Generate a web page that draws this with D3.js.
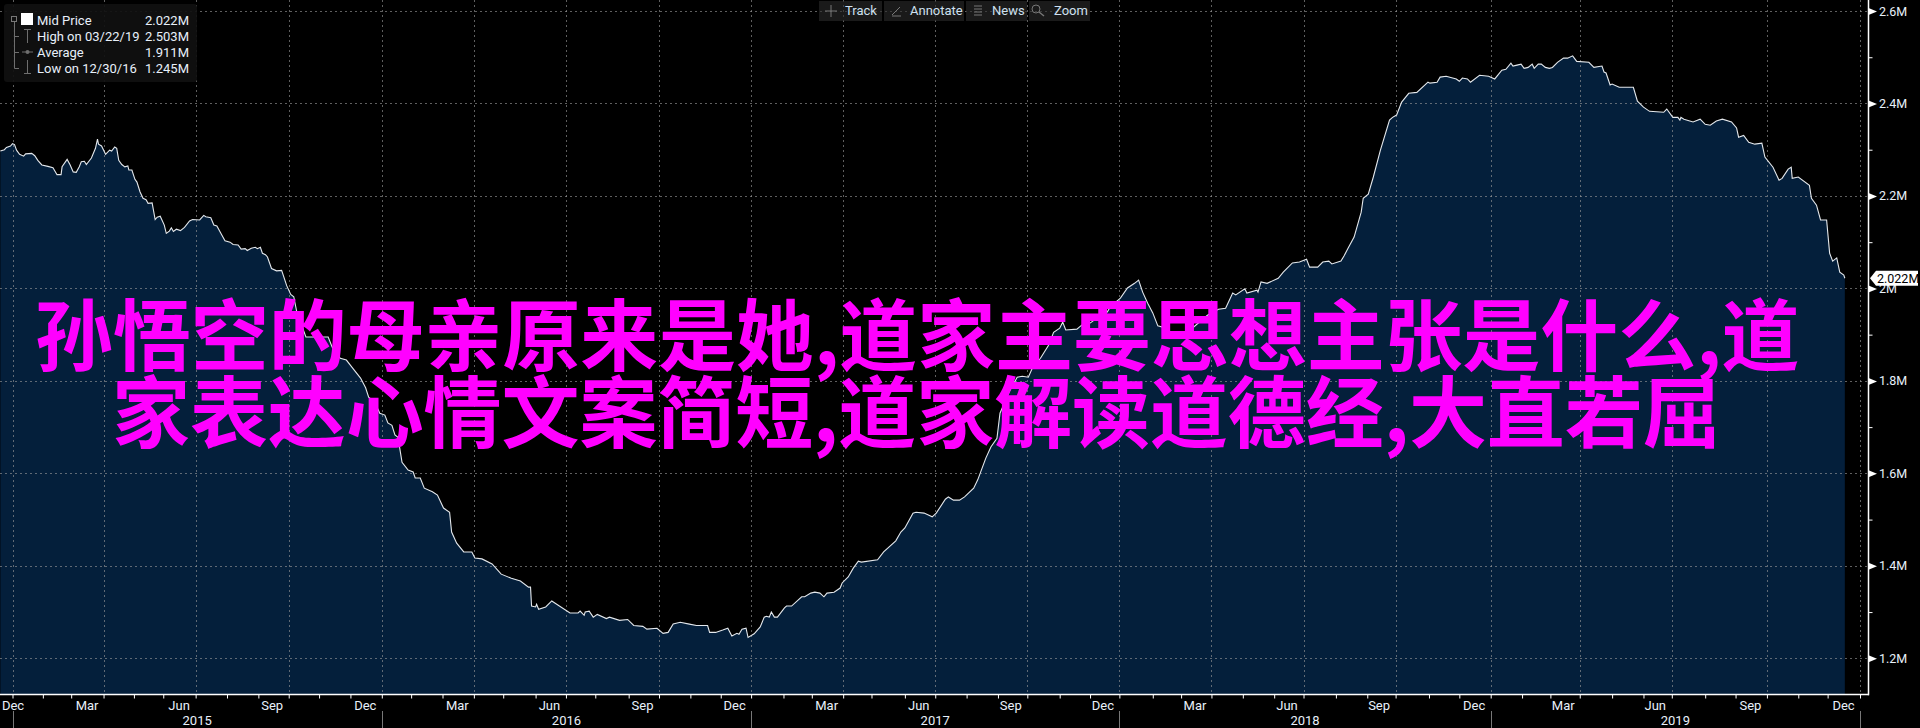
<!DOCTYPE html>
<html>
<head>
<meta charset="utf-8">
<script src="https://cdn.jsdelivr.net/npm/d3@7/dist/d3.min.js"></script>
<style>
html,body{margin:0;padding:0;background:#000;overflow:hidden}
svg{display:block}
text{font-family:Roboto,"Liberation Sans",sans-serif}
</style>
</head>
<body>
<svg id="chart" width="1920" height="728"></svg>
<script>
// ---- data ----
const startDay = "2014-12-31";
const endDay = "2019-12-31";
// calendar days after startDay
const dayOffsets = [
-12,-8,-6,-2,0,2,4,7,11,13,19,22,25,29,35,40,44,48,49,54,57,60,63,66,68,71,73,78,82,84,85,88,92,96,98,101,103,105,108,111,114,115,118,121,123,126,129,132,134,138,141,143,146,150,152,155,157,159,162,166,170,175,178,185,189,191,196,199,202,207,210,215,218,223,226,230,232,236,240,242,245,247,250,252,256,261,266,271,275,278,281,
290,296,312,316,324,330,336,344,349,352,358,363,368,371,375,378,381,385,391,396,398,403,407,415,420,426,432,434,439,446,454,457,464,474,483,493,502,510,512,513,517,518,520,527,533,542,551,559,561,565,566,570,574,578,587,590,600,608,614,623,627,637,643,648,653,660,669,676,687,689,695,702,707,711,716,718,721,725,727,
733,739,743,745,748,750,753,756,763,765,770,780,783,789,793,798,802,805,812,818,820,826,831,836,839,855,861,873,878,882,890,893,901,909,913,922,925,930,936,941,950,954,962,967,973,976,985,993,998,1004,1008,1016,1024,1029,1035,1038,1041,1052,1057,1065,1072,1082,1085,1095,1102,1109,1113,1117,1122,1127,1132,1137,1147,1164,1181,1192,1199,1206,1209,1218,1220,1230,1231,1234,1240,1251,1256,1265,
1272,1279,1282,1286,1290,1295,1301,1304,1313,1316,1320,1326,1333,1335,1340,1345,1352,1361,1364,1368,1373,1380,1388,1399,1401,1408,1411,1417,1427,1430,1433,1438,1441,1450,1459,1465,1472,1476,1481,1483,1487,1491,1494,1498,1502,1504,1508,1511,1515,1519,1522,1527,1533,1537,1542,1546,1558,1563,1571,1573,1575,1579,1581,1588,1599,1602,1606,1612,1618,1632,1635,1641,1646,1648,1649,1652,1661,1668,1673,1678,1684,1690,1699,1704,1706,1711,1716,1722,1729,1732,1740,1746,1749,1755,1758,1759,1765,1776,1778,1783,1787,1793,1796,1799,1803,1806,1810,1811
];
const midPrice = [
2.297,2.300,2.305,2.308,2.313,2.311,2.299,2.290,2.286,2.291,2.292,2.287,2.277,2.267,2.264,2.261,2.246,2.246,2.263,2.279,2.267,2.252,2.251,2.263,2.274,2.275,2.268,2.282,2.303,2.323,2.312,2.308,2.290,2.299,2.297,2.306,2.303,2.277,2.268,2.263,2.265,2.256,2.256,2.236,2.230,2.209,2.195,2.192,2.184,2.185,2.149,2.154,2.156,2.137,2.119,2.124,2.131,2.123,2.128,2.125,2.132,2.146,2.149,2.148,2.158,2.155,2.153,2.137,2.135,2.115,2.103,2.100,2.095,2.094,2.085,2.086,2.082,2.087,2.089,2.086,2.089,2.076,2.073,2.068,2.043,2.038,2.039,2.006,1.987,1.982,1.949,
1.895,1.895,1.895,1.873,1.849,1.845,1.828,1.806,1.785,1.765,1.754,1.730,1.726,1.709,1.704,1.683,1.678,1.624,1.607,1.603,1.590,1.590,1.568,1.560,1.553,1.525,1.516,1.473,1.449,1.430,1.430,1.417,1.415,1.404,1.382,1.373,1.367,1.354,1.354,1.313,1.311,1.317,1.306,1.311,1.324,1.311,1.298,1.298,1.302,1.293,1.300,1.302,1.289,1.295,1.286,1.289,1.282,1.284,1.271,1.269,1.263,1.265,1.254,1.256,1.274,1.278,1.274,1.271,1.271,1.256,1.256,1.261,1.265,1.248,1.254,1.252,1.263,1.265,1.245,
1.253,1.268,1.289,1.291,1.289,1.300,1.289,1.289,1.309,1.313,1.313,1.333,1.333,1.341,1.343,1.341,1.333,1.341,1.343,1.352,1.363,1.376,1.395,1.410,1.408,1.413,1.430,1.454,1.473,1.482,1.514,1.516,1.514,1.506,1.514,1.544,1.549,1.542,1.542,1.549,1.568,1.586,1.633,1.657,1.676,1.730,1.776,1.808,1.810,1.808,1.828,1.849,1.877,1.905,1.914,1.927,1.910,1.912,1.921,1.925,1.936,1.949,1.960,1.979,2.001,2.011,2.018,1.992,1.968,1.947,1.919,1.916,1.893,1.910,1.942,1.955,1.957,1.990,1.986,1.999,1.990,1.996,1.992,2.014,2.011,2.022,2.035,2.055,
2.057,2.063,2.046,2.046,2.046,2.057,2.059,2.053,2.059,2.070,2.087,2.111,2.165,2.195,2.204,2.241,2.299,2.364,2.370,2.375,2.403,2.422,2.424,2.446,2.444,2.446,2.457,2.459,2.453,2.448,2.455,2.453,2.446,2.461,2.459,2.453,2.472,2.474,2.487,2.481,2.483,2.485,2.476,2.478,2.485,2.476,2.485,2.485,2.478,2.476,2.478,2.489,2.498,2.498,2.503,2.491,2.489,2.478,2.481,2.468,2.466,2.440,2.442,2.435,2.435,2.435,2.405,2.392,2.383,2.381,2.388,2.370,2.370,2.364,2.370,2.366,2.360,2.366,2.355,2.353,2.362,2.366,2.360,2.347,2.327,2.331,2.316,2.312,2.314,2.284,2.262,2.234,2.238,2.258,2.262,2.238,2.241,2.223,2.195,2.180,2.148,2.148,2.076,2.059,2.066,2.035,2.029,2.022
];
const yMajor = [1.2,1.4,1.6,1.8,2.0,2.2,2.4,2.6];
const yMinor = [1.3,1.5,1.7,1.9,2.1,2.3,2.5];
const yMajorLabels = ["1.2M","1.4M","1.6M","1.8M","2M","2.2M","2.4M","2.6M"];
const quarterMonths = [11,2,5,8];
const monthNames = {11:"Dec",2:"Mar",5:"Jun",8:"Sep"};
const years = [2015,2016,2017,2018,2019];
const lastPriceLabel = "2.022M";
const lastPrice = 2.022;
const legendNames = ["Mid Price","High on 03/22/19","Average","Low on 12/30/16"];
const legendValues = ["2.022M","2.503M","1.911M","1.245M"];
const toolbarItems = ["Track","Annotate","News","Zoom"];
const titleLines = ["孙悟空的母亲原来是她,道家主要思想主张是什么,道","家表达心情文案简短,道家解读道德经,大直若屈"];

// ---- scales ----
const parse = d3.utcParse("%Y-%m-%d");
const t0 = parse(startDay), t1 = parse(endDay);
const x = d3.scaleUtc().domain([t0,t1]).range([12.5,1860]);
const y = d3.scaleLinear().domain([1.2,2.6]).range([658.3,11]);
const plotBottom = 694.5, axisX = 1868.5;
const points = dayOffsets.map((d,i)=>({date:d3.utcDay.offset(t0,d),value:midPrice[i]}));

// last business day of each month
function lastBiz(yr,mo){
  let d = new Date(Date.UTC(yr,mo+1,0));
  while(d.getUTCDay()===0||d.getUTCDay()===6) d = d3.utcDay.offset(d,-1);
  return d;
}
const monthEnds = d3.utcMonth.range(new Date(Date.UTC(2014,11,1)),new Date(Date.UTC(2020,0,1)))
  .map(m=>lastBiz(m.getUTCFullYear(),m.getUTCMonth()));
monthEnds[0] = t0; monthEnds[monthEnds.length-1] = t1;
const quarterEnds = monthEnds.filter(d=>quarterMonths.includes(d.getUTCMonth()));

const svg = d3.select("#chart");
svg.append("rect").attr("width",1920).attr("height",728).attr("fill","#000");

// area + line
svg.append("path").datum(points).attr("fill","#041f3b")
  .attr("d",d3.area().x(d=>x(d.date)).y0(plotBottom).y1(d=>y(d.value)));

// grid
const grid = svg.append("g").attr("stroke","#9a9a9a").attr("stroke-opacity",.62).attr("stroke-dasharray","2,3").attr("fill","none");
quarterEnds.forEach(d=>grid.append("line").attr("x1",Math.round(x(d))+.5).attr("x2",Math.round(x(d))+.5).attr("y1",0).attr("y2",plotBottom));
yMajor.forEach(v=>grid.append("line").attr("x1",0).attr("x2",axisX).attr("y1",Math.round(y(v))+.5).attr("y2",Math.round(y(v))+.5));

svg.append("path").datum(points).attr("fill","none").attr("stroke","#e4e8ec").attr("stroke-width",1.1)
  .attr("d",d3.line().x(d=>x(d.date)).y(d=>y(d.value)));

// ---- bottom axis ----
const labelColor = "#e8f0fa";
const axB = svg.append("g").attr("transform",`translate(0,${plotBottom})`)
  .call(d3.axisBottom(x).tickValues(monthEnds).tickSize(4).tickFormat(""));
axB.select(".domain").remove();
axB.selectAll("line").attr("stroke","#fff").attr("stroke-width",1);
svg.append("line").attr("x1",0).attr("x2",axisX+.5).attr("y1",plotBottom).attr("y2",plotBottom).attr("stroke","#fff").attr("stroke-width",1.5);
quarterEnds.forEach((d,i)=>{
  const cx = i===0 ? 13 : x(d)-16.5;
  svg.append("text").attr("x",cx).attr("y",709.5).attr("text-anchor","middle")
    .attr("font-size",13).attr("fill",labelColor).text(monthNames[d.getUTCMonth()]);
});
const yearEnds = quarterEnds.filter(d=>d.getUTCMonth()===11);
yearEnds.forEach(d=>svg.append("line").attr("x1",Math.round(x(d))+.5).attr("x2",Math.round(x(d))+.5)
  .attr("y1",711).attr("y2",728).attr("stroke","#777"));
years.forEach((yr,i)=>svg.append("text").attr("x",(x(yearEnds[i])+x(yearEnds[i+1]))/2).attr("y",725)
  .attr("text-anchor","middle").attr("font-size",13).attr("fill",labelColor).text(yr));

// ---- right axis ----
svg.append("line").attr("x1",axisX).attr("x2",axisX).attr("y1",0).attr("y2",plotBottom+.7).attr("stroke","#fff").attr("stroke-width",1.5);
const axMinor = svg.append("g").attr("transform",`translate(${axisX},0)`)
  .call(d3.axisRight(y).tickValues(yMinor).tickSize(4).tickFormat(""));
axMinor.select(".domain").remove();
axMinor.selectAll("line").attr("stroke","#fff");
const axMajor = svg.append("g").attr("transform",`translate(${axisX},0)`)
  .call(d3.axisRight(y).tickValues(yMajor).tickSize(0).tickPadding(10.5)
    .tickFormat(v=>yMajorLabels[yMajor.indexOf(v)]));
axMajor.select(".domain").remove();
axMajor.selectAll("text").attr("font-size",12.5).attr("fill",labelColor).attr("font-family","Roboto");
axMajor.selectAll(".tick").append("path").attr("d","M0,-3.5L8.5,0L0,3.5Z").attr("fill","#fff");

// last-price callout
const cy = y(lastPrice);
svg.append("path").attr("d",`M1870,${cy}L1876,${cy-7.5}H1918V${cy+7.5}H1876Z`).attr("fill","#fff");
svg.append("text").attr("x",1877).attr("y",cy+4.6).attr("font-size",12.5).attr("fill","#000").text(lastPriceLabel);

// ---- legend ----
const lg = svg.append("g");
lg.append("rect").attr("x",4).attr("y",4).attr("width",193).attr("height",78).attr("rx",3).attr("fill","#101010").attr("fill-opacity",.93);
const rowY = [20,36,52,68];
legendNames.forEach((n,i)=>{
  lg.append("text").attr("x",37).attr("y",rowY[i]+4.6).attr("font-size",13).attr("fill",labelColor).text(n);
  lg.append("text").attr("x",189).attr("y",rowY[i]+4.6).attr("text-anchor","end").attr("font-size",13).attr("fill",labelColor).text(legendValues[i]);
});
lg.append("rect").attr("x",21).attr("y",13).attr("width",12).attr("height",12).attr("fill","#fff");
lg.append("rect").attr("x",11.5).attr("y",16.5).attr("width",5).attr("height",5).attr("fill","none").attr("stroke","#777");
lg.append("path").attr("fill","none").attr("stroke","#6e6e6e")
  .attr("d","M14.5,22V68.5H19 M14.5,36.5H19 M14.5,52.5H19 M27.5,30V43 M24,29.5H31 M22,52H33 M27.5,60V73 M24,73.5H31");
lg.append("circle").attr("cx",27.5).attr("cy",52).attr("r",2).attr("fill","#6e6e6e");

// ---- toolbar ----
const tb = svg.append("g");
const tbBoxes = [[819,63],[884,80],[966,61],[1029,61]];
const tbTextX = [845,910,992,1054];
toolbarItems.forEach((t,i)=>{
  tb.append("rect").attr("x",tbBoxes[i][0]).attr("y",1).attr("width",tbBoxes[i][1]).attr("height",20).attr("fill","#2a2a2a").attr("fill-opacity",.62);
  tb.append("text").attr("x",tbTextX[i]).attr("y",15).attr("font-size",13).attr("fill","#cfe0f0").text(t);
});
tb.append("path").attr("fill","none").attr("stroke","#777")
  .attr("d","M831,5V17 M825,11H837 M892,15L900,7 M892,16H901 M974,6H982 M974,9H982 M974,12H982 M974,15H982");
tb.append("circle").attr("cx",1036).attr("cy",9).attr("r",4).attr("fill","none").attr("stroke","#777");
tb.append("line").attr("x1",1039).attr("y1",12).attr("x2",1044).attr("y2",16).attr("stroke","#777").attr("stroke-width",1.5);

// ---- overlay title ----
const titleX = [35,112], titleY = [365,442];
titleLines.forEach((l,i)=>svg.append("text").attr("x",titleX[i]).attr("y",titleY[i])
  .style("font-family",'"Noto Sans CJK SC"').style("font-weight",700)
  .attr("font-size",78).attr("letter-spacing",-0.1).attr("fill","#ff00ff").text(l));
</script>
</body>
</html>
